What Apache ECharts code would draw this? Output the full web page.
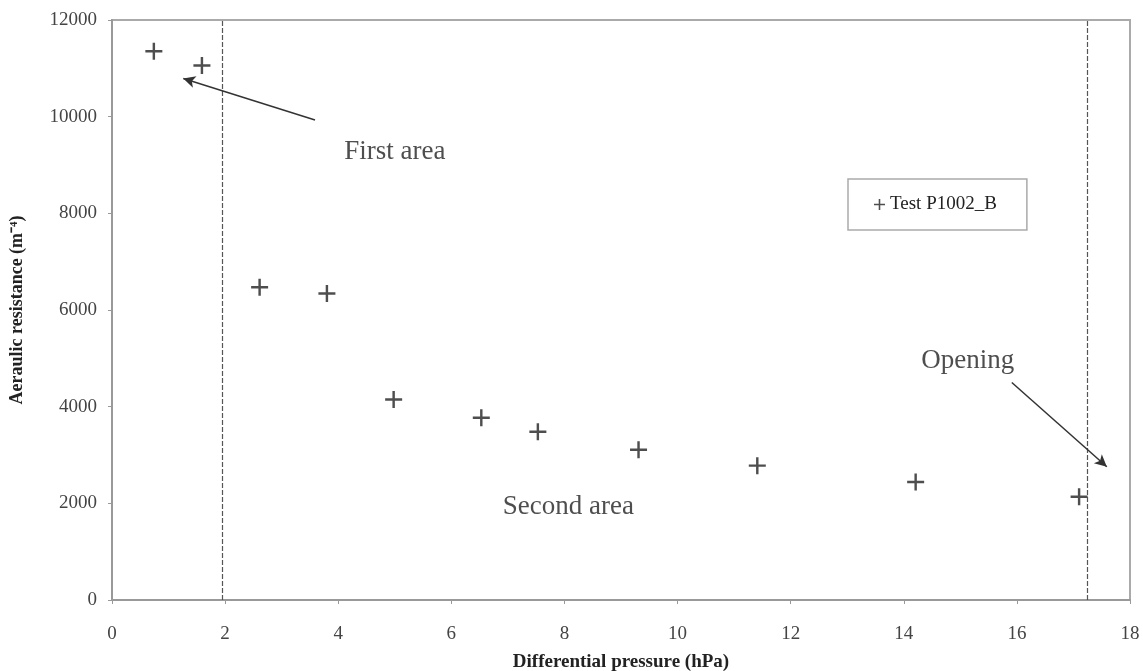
<!DOCTYPE html>
<html>
<head>
<meta charset="utf-8">
<script src="https://cdn.jsdelivr.net/npm/echarts@6/dist/echarts.min.js"></script>
<style>html,body{margin:0;padding:0;background:#fff;}#c{width:1143px;height:671px;}</style>
</head>
<body>
<div id="c"></div>
<script>
// Data
const pressure   = [0.74, 1.59, 2.61, 3.80, 4.98, 6.53, 7.53, 9.31, 11.41, 14.21, 17.10];
const resistance = [11355, 11060, 6470, 6340, 4150, 3770, 3480, 3110, 2780, 2440, 2135];
const seriesName = 'Test P1002_B';
const areaBounds = [1.95, 17.24];
const xRange = [0, 18, 2];
const yRange = [0, 12000, 2000];
// annotations (data coordinates)
const annotationTexts = ['First area', 'Second area', 'Opening'];
const annotationX = [5.0, 8.07, 15.13];
const annotationY = [9280, 1935, 4955];
const arrowFrom = [[3.59, 9930], [15.91, 4500]];
const arrowTo   = [[1.26, 10790], [17.59, 2756]];

const plus = 'path://M6,0h2v14h-2zM0,6h14v2h-14z';
const serif = 'Liberation Serif';

const chart = echarts.init(document.getElementById('c'));
const vLines = areaBounds.map(v => ({ xAxis: v, lineStyle: { color: '#555', width: 1.2, type: [5, 2] } }));
const arrows = arrowFrom.map((f, i) => [
  { coord: f, symbol: 'none', lineStyle: { color: '#333', width: 1.5, type: 'solid' } },
  { coord: arrowTo[i], symbol: 'arrow', symbolSize: [9, 12] }
]);

chart.setOption({
  animation: false,
  backgroundColor: '#fff',
  grid: { left: 112, right: 13, top: 20, bottom: 71, show: true, borderColor: '#aaa', borderWidth: 2,
          containLabel: false, outerBoundsMode: 'none' },
  legend: {
    left: 848, top: 179,
    data: [{ name: seriesName, icon: plus }],
    itemWidth: 11, itemHeight: 11, itemGap: 4,
    padding: [16, 30, 16, 26],
    borderColor: '#aaa', borderWidth: 1.5, backgroundColor: '#fff',
    textStyle: { fontFamily: serif, fontSize: 19, color: '#222' }
  },
  xAxis: {
    type: 'value', min: xRange[0], max: xRange[1], interval: xRange[2],
    name: 'Differential pressure (hPa)', nameLocation: 'middle', nameGap: 53,
    nameTextStyle: { fontFamily: serif, fontWeight: 'bold', fontSize: 19, color: '#222' },
    axisLine: { show: true, lineStyle: { color: '#999', width: 2 } },
    axisTick: { show: true, length: 4, lineStyle: { color: '#999' } },
    axisLabel: { fontFamily: serif, fontSize: 19, color: '#444', margin: 25 },
    splitLine: { show: false }
  },
  yAxis: {
    type: 'value', min: yRange[0], max: yRange[1], interval: yRange[2],
    name: 'Aeraulic resistance (m\u207B\u2074)', nameLocation: 'middle', nameGap: 86,
    nameTextStyle: { fontFamily: serif, fontWeight: 'bold', fontSize: 18, color: '#222' },
    axisLine: { show: true, lineStyle: { color: '#999', width: 2 } },
    axisTick: { show: true, length: 4, lineStyle: { color: '#999' } },
    axisLabel: { fontFamily: serif, fontSize: 19, color: '#444', margin: 15, formatter: v => String(v) },
    splitLine: { show: false }
  },
  series: [
    {
      name: seriesName, type: 'scatter', symbol: plus, symbolSize: 17,
      itemStyle: { color: '#222' },
      data: pressure.map((x, i) => [x, resistance[i]]),
      markLine: { silent: true, symbol: ['none', 'none'], label: { show: false }, data: vLines.concat(arrows) },
      z: 3
    },
    {
      name: 'annotations', type: 'scatter', symbolSize: 0, silent: true,
      data: annotationTexts.map((t, i) => ({ value: [annotationX[i], annotationY[i]], name: t })),
      label: { show: true, position: 'inside', formatter: p => p.name, fontFamily: serif, fontSize: 27, color: '#222' }
    }
  ]
});
</script>
</body>
</html>
